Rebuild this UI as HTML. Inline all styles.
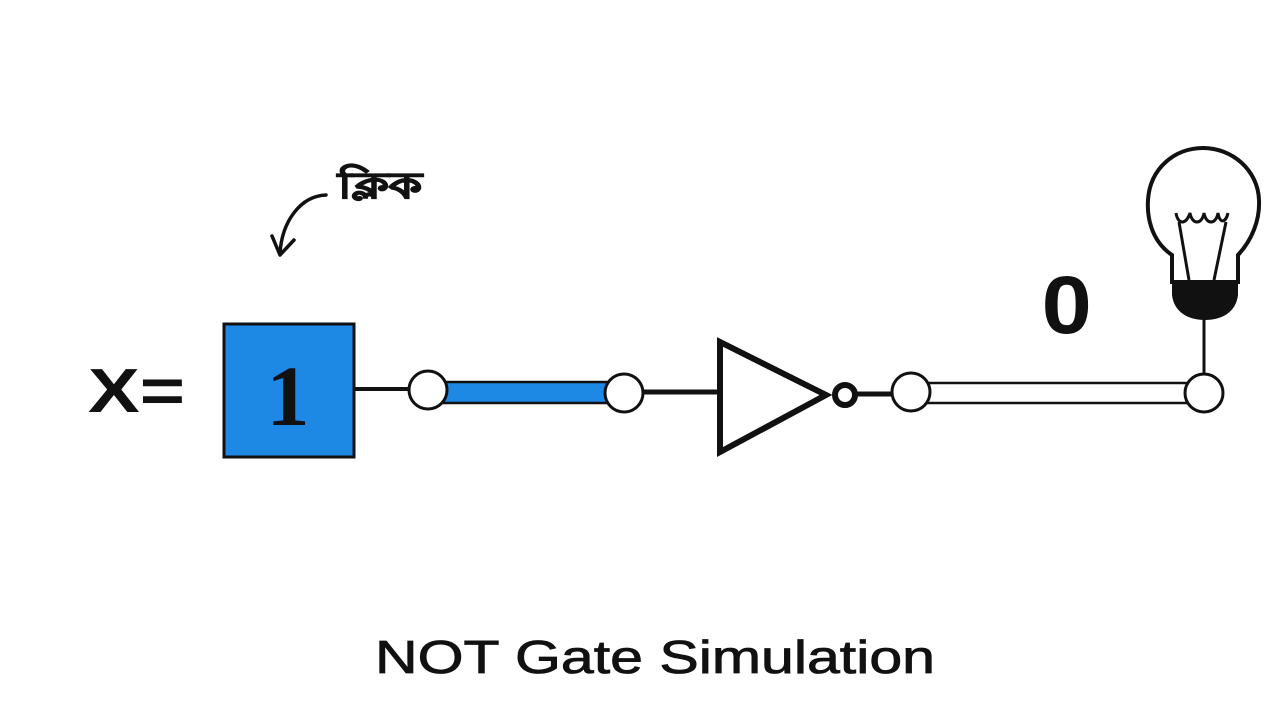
<!DOCTYPE html>
<html><head><meta charset="utf-8"><style>
html,body{margin:0;padding:0;background:#fff;}
svg{display:block}
</style></head><body>
<svg width="1280" height="720" viewBox="0 0 1280 720" xmlns="http://www.w3.org/2000/svg">
<rect width="1280" height="720" fill="#fff"/>
<text x="88" y="412" textLength="97" lengthAdjust="spacingAndGlyphs" font-family="Liberation Sans, sans-serif" font-weight="bold" font-size="62" fill="#111">X=</text>
<text x="338" y="198" textLength="84" lengthAdjust="spacingAndGlyphs" font-family="Liberation Sans, sans-serif" font-weight="bold" font-size="36" fill="#111" stroke="#111" stroke-width="1.2">ক্লিক</text>
<path d="M326 195 C300 196 282 222 280 253" fill="none" stroke="#111" stroke-width="3.5" stroke-linecap="round"/>
<path d="M272 236 L280 255 L294 240" fill="none" stroke="#111" stroke-width="3.5" stroke-linecap="round" stroke-linejoin="round"/>
<rect x="224" y="324" width="130" height="133" fill="#1e88e5" stroke="#111" stroke-width="3"/>
<text x="288" y="425" text-anchor="middle" font-family="Liberation Serif, serif" font-weight="bold" font-size="86" fill="#111">1</text>
<line x1="354" y1="389" x2="412" y2="389" stroke="#111" stroke-width="4"/>
<rect x="440" y="382" width="172" height="21" fill="#1e88e5" stroke="#111" stroke-width="2.5"/>
<circle cx="428" cy="390" r="19" fill="#fff" stroke="#111" stroke-width="3"/>
<circle cx="624" cy="393" r="19" fill="#fff" stroke="#111" stroke-width="3"/>
<line x1="643" y1="392" x2="720" y2="392" stroke="#111" stroke-width="5"/>
<polygon points="720,342 720,452 826,395" fill="#fff" stroke="#111" stroke-width="6"/>
<circle cx="845" cy="395" r="10" fill="#fff" stroke="#111" stroke-width="6"/>
<line x1="855" y1="394" x2="893" y2="394" stroke="#111" stroke-width="5"/>
<rect x="925" y="383" width="265" height="20" fill="#fff" stroke="#111" stroke-width="2.5"/>
<circle cx="911" cy="392" r="19" fill="#fff" stroke="#111" stroke-width="3"/>
<circle cx="1204" cy="393" r="19" fill="#fff" stroke="#111" stroke-width="3"/>
<line x1="1204" y1="318" x2="1204" y2="374" stroke="#111" stroke-width="3"/>
<text x="1067" y="333" text-anchor="middle" font-family="Liberation Sans, sans-serif" font-weight="bold" font-size="82" fill="#111" transform="translate(-107 0) scale(1.1 1)">0</text>
<path d="M1172 282 L1172 255 C1150 240 1147 215 1148 200 C1150 168 1175 148 1203 148 C1232 148 1258 170 1259 200 C1260 220 1252 240 1238 255 L1238 282 Z" fill="#fff" stroke="#111" stroke-width="4"/>
<path d="M1172 282 L1238 282 L1238 295 C1236 312 1222 320 1205 320 C1188 320 1174 312 1172 295 Z" fill="#111"/>
<path d="M1176 213 C1178 225 1186 225 1190 213 C1192 225 1202 225 1204 213 C1206 225 1216 225 1218 213 C1220 225 1226 222 1228 213" fill="none" stroke="#111" stroke-width="3"/>
<line x1="1179" y1="222" x2="1189" y2="280" stroke="#111" stroke-width="3"/>
<line x1="1226" y1="222" x2="1214" y2="280" stroke="#111" stroke-width="3"/>
<text x="375" y="673" textLength="560" lengthAdjust="spacingAndGlyphs" font-family="Liberation Sans, sans-serif" font-size="46" fill="#111" stroke="#111" stroke-width="0.8">NOT Gate Simulation</text>
</svg>
</body></html>
